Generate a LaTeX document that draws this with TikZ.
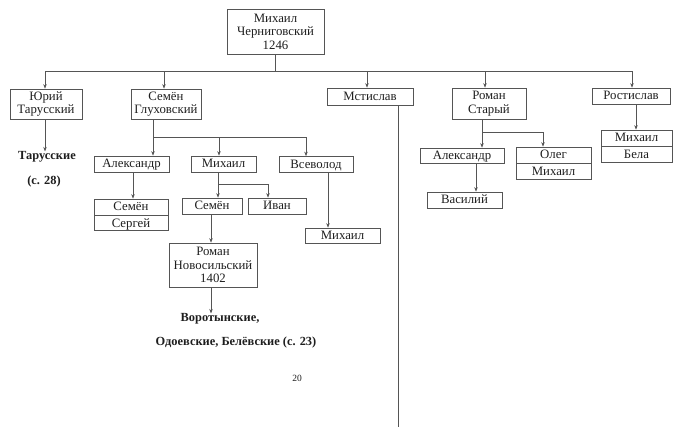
\documentclass[tikz,border=0pt]{standalone}
\usepackage{fontspec}
\setmainfont{Liberation Serif}
\usetikzlibrary{arrows.meta}
\definecolor{linec}{HTML}{555555}
\definecolor{textc}{HTML}{1e1e1e}
\newcommand{\fs}{\fontsize{12.8}{13.5}\selectfont}
\newcommand{\fb}{\fontsize{12.4}{13.5}\selectfont\bfseries}
\tikzset{
  box/.style={draw=linec, line width=0.7pt, inner sep=0pt, align=center, font=\fs, text=textc},
  one/.style={box, text height=10.3pt, text depth=2.3pt},
  ln/.style={draw=linec, line width=0.6pt},
  arr/.style={draw=linec, line width=0.6pt, -{Stealth[length=4.5pt,width=3.5pt]}},
  lbl/.style={inner sep=0pt, font=\fb, text=textc}
}
\begin{document}
\begin{tikzpicture}[x=1pt,y=-1pt]
\useasboundingbox (0,0) rectangle (674,427);
% boxes
\node[box, minimum width=97pt, minimum height=45pt] (mc) at (275.5,31.5) {Михаил\\Черниговский\\1246};
\node[box, minimum width=72pt, minimum height=30pt] (yu) at (46,104) {Юрий\\Тарусский};
\node[box, minimum width=70pt, minimum height=30pt] (sg) at (166,104) {Семён\\Глуховский};
\node[one, minimum width=86pt, minimum height=17pt] (ms) at (370,96.5) {Мстислав};
\node[box, minimum width=74pt, minimum height=31pt] (rs) at (489,103.5) {Роман\\Старый};
\node[one, minimum width=78pt, minimum height=16pt] (ro) at (631,96) {Ростислав};
\node[one, minimum width=75pt, minimum height=16pt] (al1) at (131.5,164) {Александр};
\node[one, minimum width=65pt, minimum height=16pt] (mi1) at (223.5,164) {Михаил};
\node[one, minimum width=74pt, minimum height=16pt] (vs) at (316,164.5) {Всеволод};
\node[one, minimum width=74pt, minimum height=16pt] (ss1) at (131,207) {Семён};
\node[one, minimum width=74pt, minimum height=15pt, anchor=north] (ss2) at (ss1.south) {Сергей};
\node[one, minimum width=60pt, minimum height=16pt] (se) at (212,206) {Семён};
\node[one, minimum width=58pt, minimum height=16pt] (iv) at (277,206) {Иван};
\node[box, minimum width=88pt, minimum height=44pt] (rn) at (213,265) {Роман\\Новосильский\\1402};
\node[one, minimum width=75pt, minimum height=15pt] (mi2) at (342.5,235.5) {Михаил};
\node[one, minimum width=84pt, minimum height=15pt] (al2) at (462,155.5) {Александр};
\node[one, minimum width=75pt, minimum height=16pt] (om1) at (553.5,155) {Олег};
\node[one, minimum width=75pt, minimum height=16pt, anchor=north] (om2) at (om1.south) {Михаил};
\node[one, minimum width=75pt, minimum height=16pt] (va) at (464.5,200) {Василий};
\node[one, minimum width=71pt, minimum height=16pt] (mb1) at (636.5,138) {Михаил};
\node[one, minimum width=71pt, minimum height=16pt, anchor=north] (mb2) at (mb1.south) {Бела};
% labels
\node[lbl] (tar) at (47,157) {Тарусские};
\node[lbl] (tarp) at (44,182) {(с. 28)};
\node[lbl] (vor) at (220,319) {Воротынские,};
\node[lbl] (odo) at (236,343) {Одоевские, Белёвские (с. 23)};
\node[inner sep=0pt, font=\fontsize{9.5}{10}\selectfont, text=textc] (pg) at (297,378) {20};
\coordinate (msend) at (398,427);
% connectors from Михаил Черниговский
\draw[ln] (mc.south) -- ++(0,17) coordinate (bar1);
\draw[arr] (bar1) -| ([xshift=-1pt]yu.north);
\draw[arr] (bar1) -| ([xshift=-2pt]sg.north);
\draw[arr] (bar1) -| ([xshift=-3pt]ms.north);
\draw[arr] (bar1) -| ([xshift=-4pt]rs.north);
\draw[arr] (bar1) -| ([xshift=1pt]ro.north);
% Юрий
\draw[arr] ([xshift=-1pt]yu.south) -- ([xshift=-2pt]tar.north);
% Семён Глуховский
\draw[ln] ([xshift=-13pt]sg.south) -- ++(0,18) coordinate (bar2);
\draw[arr] (bar2) -- ([xshift=21.5pt]al1.north);
\draw[arr] (bar2) -| ([xshift=-4.5pt]mi1.north);
\draw[arr] (bar2) -| ([xshift=-10pt]vs.north);
\draw[arr] ([xshift=1.5pt]al1.south) -- ([xshift=2pt]ss1.north);
\draw[ln] ([xshift=-5.5pt]mi1.south) -- ++(0,12) coordinate (bar3);
\draw[arr] (bar3) -- ([xshift=6pt]se.north);
\draw[arr] (bar3) -| ([xshift=-9pt]iv.north);
\draw[arr] ([xshift=-1pt]se.south) -- ([xshift=-2pt]rn.north);
\draw[arr] ([xshift=-2pt]rn.south) -- ([xshift=-9pt]vor.north);
\draw[arr] ([xshift=12pt]vs.south) -- ([xshift=-14.5pt]mi2.north);
% Мстислав
\draw[ln] ([xshift=28pt]ms.south) -- (msend);
% Роман Старый
\draw[ln] ([xshift=-7pt]rs.south) -- ++(0,13) coordinate (bar4);
\draw[arr] (bar4) -- ([xshift=20pt]al2.north);
\draw[arr] (bar4) -| ([xshift=-10.5pt]om1.north);
\draw[arr] ([xshift=14pt]al2.south) -- ([xshift=11.5pt]va.north);
% Ростислав
\draw[arr] ([xshift=5pt]ro.south) -- ([xshift=-0.5pt]mb1.north);
\end{tikzpicture}
\end{document}
